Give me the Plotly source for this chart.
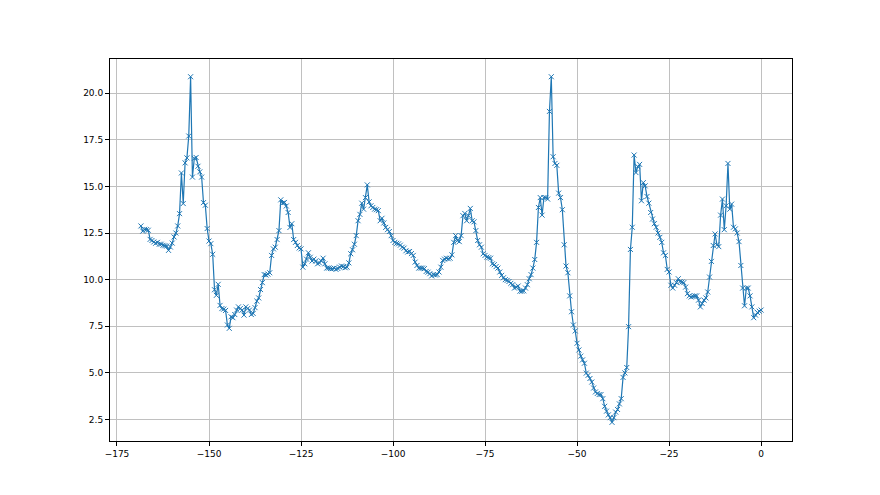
import plotly.graph_objects as go

# one reading every half hour over the last week (x in hours, last reading at 0)
step = 0.5
y = [
    12.88, 12.6, 12.7, 12.68, 12.65, 12.16, 12.1, 12.02, 11.95, 12.0,
    11.9, 11.9, 11.84, 11.82, 11.8, 11.57, 11.75, 11.96, 12.29, 12.5,
    12.88, 13.54, 15.72, 14.08, 16.26, 16.53, 17.7, 20.88, 15.5, 16.5,
    16.55, 16.08, 15.78, 15.5, 14.13, 13.99, 12.74, 12.07, 11.93, 11.36,
    9.46, 9.16, 9.75, 8.62, 8.45, 8.42, 8.35, 7.57, 7.39, 8.01,
    7.96, 8.13, 8.37, 8.54, 8.45, 8.37, 8.1, 8.54, 8.45, 8.37,
    8.13, 8.19, 8.5, 8.85, 9.02, 9.47, 9.84, 10.27, 10.25, 10.3,
    10.37, 11.3, 11.65, 11.74, 12.15, 12.63, 14.28, 14.1, 14.14, 13.95,
    13.6, 12.8, 13.0, 12.15, 12.0, 11.83, 11.7, 11.65, 10.67, 10.85,
    11.1, 11.44, 11.2, 11.0, 11.1, 11.0, 10.85, 10.9, 11.0, 11.15,
    10.85, 10.62, 10.62, 10.6, 10.59, 10.62, 10.55, 10.6, 10.67, 10.73,
    10.7, 10.64, 10.67, 10.9, 11.39, 11.6, 11.9, 12.36, 13.16, 13.5,
    14.1, 13.78, 14.4, 15.08, 14.17, 13.96, 13.87, 13.78, 13.75, 13.7,
    13.16, 13.29, 13.04, 12.8, 12.68, 12.58, 12.36, 12.1, 12.0, 11.95,
    11.92, 11.85, 11.74, 11.69, 11.55, 11.48, 11.51, 11.4, 11.3, 10.94,
    10.76, 10.62, 10.62, 10.62, 10.59, 10.44, 10.4, 10.32, 10.2, 10.27,
    10.25, 10.27, 10.41, 10.67, 11.03, 11.1, 11.15, 11.12, 11.15, 11.33,
    12.0, 12.36, 12.1, 12.04, 12.36, 13.43, 13.55, 13.16, 13.43, 13.82,
    13.16, 13.1, 12.63, 12.1, 11.87, 11.74, 11.39, 11.3, 11.21, 11.18,
    11.15, 10.85, 10.8, 10.7, 10.62, 10.41, 10.23, 10.1, 10.0, 9.96,
    9.9, 9.8, 9.73, 9.55, 9.6, 9.66, 9.38, 9.38, 9.4, 9.55,
    9.73, 10.05, 10.27, 10.62, 11.08, 12.0, 13.87, 14.4, 13.46, 14.4,
    14.4, 14.32, 19.02, 20.88, 16.59, 16.23, 16.13, 14.64, 14.4, 13.75,
    11.87, 10.73, 10.37, 9.13, 8.28, 7.57, 7.25, 6.59, 6.23, 5.9,
    5.7, 5.52, 4.99, 4.87, 4.7, 4.51, 4.19, 3.98, 3.9, 3.84,
    3.84, 3.62, 3.21, 2.95, 2.75, 2.6, 2.35, 2.6, 2.9, 3.04,
    3.34, 3.62, 4.76, 5.0, 5.29, 7.48, 11.62, 12.81, 16.68, 15.74,
    16.06, 16.18, 14.23, 15.2, 15.03, 14.46, 14.1, 13.6, 13.25, 13.0,
    12.81, 12.5, 12.27, 12.0, 11.44, 11.3, 10.55, 10.41, 9.7, 9.55,
    9.7, 9.84, 10.05, 9.9, 9.87, 9.84, 9.6, 9.25, 9.13, 9.07,
    9.1, 9.13, 9.13, 8.9, 8.54, 8.72, 8.9, 9.02, 9.34, 10.14,
    10.98, 11.83, 12.45, 11.87, 11.77, 13.46, 14.32, 12.68, 13.96, 16.23,
    13.78, 14.05, 12.81, 12.72, 12.5, 12.04, 10.76, 9.55, 8.6, 9.55,
    9.55, 9.13, 8.54, 7.96, 8.1, 8.24, 8.31, 8.37,
]
n = len(y)
x = [-(n - 1 - i) * step for i in range(n)]

fig = go.Figure()
fig.add_trace(go.Scatter(
    x=x, y=y, mode="lines+markers",
    line=dict(color="#1f77b4", width=1.2),
    marker=dict(symbol="x-thin", size=5, line=dict(color="#1f77b4", width=1)),
    showlegend=False,
))

axis_style = dict(
    showline=True, mirror=True, linecolor="black", linewidth=1,
    ticks="outside", ticklen=4, tickcolor="black",
    showgrid=True, gridcolor="#c0c0c0", gridwidth=0.8,
    zeroline=False,
    tickfont=dict(family="DejaVu Sans", size=9, color="black"),
)
fig.update_xaxes(range=[-176.9, 8.4], dtick=25, tick0=0, **axis_style)
fig.update_yaxes(range=[1.35, 21.83], dtick=2.5, tick0=0, tickformat=".1f", **axis_style)

# page body adds an 8px offset, so margins are shifted to match
fig.update_layout(
    width=880, height=495,
    margin=dict(l=102, r=96, t=51, b=62),
    plot_bgcolor="white", paper_bgcolor="white",
)
fig.write_html("out.html")
